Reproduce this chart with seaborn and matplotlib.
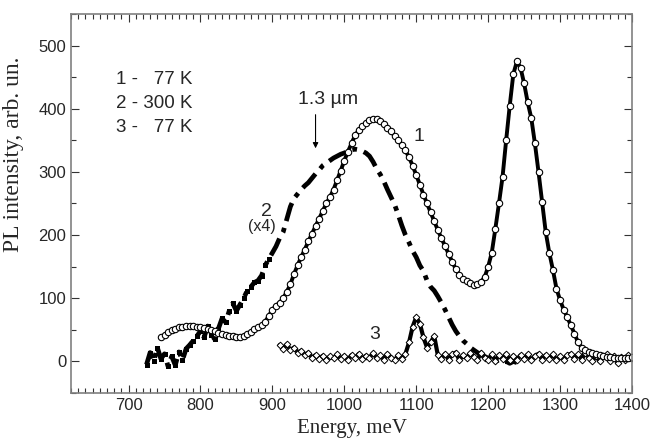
import numpy as np
import pandas as pd
import matplotlib
matplotlib.use("Agg")
import matplotlib.pyplot as plt
from matplotlib.ticker import MultipleLocator
import seaborn as sns

# curve 1: 77 K, open circles (5 meV step from 745 meV)
e1_start = 745
pl_77k = [
    38, 42, 46, 50, 52, 54, 55, 56, 56, 56, 55,           # 745-795
    55, 53, 51, 49, 48, 45, 43, 42, 41, 40,               # 800-845
    39, 39, 40, 43, 47, 51, 54, 57, 63, 72,               # 850-895
    82, 88, 93, 100, 110, 122, 138, 152, 165, 177,        # 900-945
    190, 202, 214, 226, 238, 250, 260, 272, 287, 302,     # 950-995
    318, 332, 345, 358, 366, 372, 378, 382, 384, 383,     # 1000-1045
    380, 376, 370, 364, 357, 350, 342, 334, 323, 310,     # 1050-1095
    295, 280, 264, 250, 236, 222, 208, 195, 183, 170,     # 1100-1145
    158, 146, 137, 131, 127, 124, 121, 122, 126, 133,     # 1150-1195
    150, 172, 210, 250, 292, 350, 405, 455, 475, 465,     # 1200-1245
    440, 410, 385, 345, 300, 252, 205, 172, 145, 115,     # 1250-1295
    97, 82, 70, 57, 44, 30, 22, 18, 15, 13,               # 1300-1345
    11, 10, 8, 7, 7, 6, 6, 5, 6, 6,                       # 1350-1395
    7,                                                    # 1400
]

# curve 2: 300 K (x4), dash-dot (5 meV step from 725 meV)
e2_start = 725
pl_300k = [
    -5, 14, 0, 22, 4, 12, -8, 8, -6, 15, 2, 20, 26, 33, 40,   # 725-795
    48, 38, 56, 42, 35, 52, 68, 62, 80, 92,               # 800-845
    80, 90, 100, 112, 118, 125, 128, 136, 152, 162,       # 850-895
    172, 182, 195, 205, 225, 245, 258, 265, 272, 278,     # 900-945
    283, 290, 297, 303, 310, 314, 318, 322, 325, 328,     # 950-995
    330, 333, 335, 336, 335, 333, 330, 325, 316, 305,     # 1000-1045
    296, 285, 272, 260, 248, 232, 215, 200, 188, 175,     # 1050-1095
    165, 152, 143, 128, 118, 112, 103, 93, 82, 70,        # 1100-1145
    58, 48, 40, 33, 28, 22, 18, 14, 10, 8,                # 1150-1195
    5, 3, 0, 2, -2, 0, -3, 0, -2,                         # 1200-1240
]

# curve 3: 77 K, open diamonds (5 meV step from 910 meV)
e3_start = 910
pl_77k_b = [
    26, 20, 27, 18, 22, 14, 17, 10,                       # 910-945
    14, 6, 10, 4, 9, 3, 8, 5, 11, 4,                      # 950-995
    9, 3, 10, 5, 12, 4, 9, 6, 13, 5,                      # 1000-1045
    10, 3, 12, 6, 2, 10, 4, 12, 30, 55,                   # 1050-1095
    70, 60, 38, 22, 30, 40, 10, 4, 12, 3,                 # 1100-1145
    11, 14, 2, 10, 5, 13, 7, 2, 14, 6,                    # 1150-1195
    3, 11, 1, 10, 4, 12, 2, 9, 3, 10,                     # 1200-1245
    4, 11, 2, 9, 12, 3, 10, 4, 11, 2,                     # 1250-1295
    9, 3, 10, 12, 4, 11, 3, 14, 6, 1,                     # 1300-1345
    9, 0, 8, 11, 1, 9, -3, 7, 2, 10,                      # 1350-1395
    6,                                                    # 1400
]

legend_lines = ["1 -   77 K", "2 - 300 K", "3 -   77 K"]


def make_df(start, values):
    energy = start + 5 * np.arange(len(values))
    return pd.DataFrame({"energy": energy, "pl": values})


df1 = make_df(e1_start, pl_77k)
df2 = make_df(e2_start, pl_300k)
df3 = make_df(e3_start, pl_77k_b)

sns.set_style("ticks")
plt.rcParams["font.family"] = ["Liberation Sans", "DejaVu Sans"]

fig = plt.figure(figsize=(6.55, 4.42), dpi=100)
ax = fig.add_axes([0.1084, 0.1109, 0.8565, 0.8574])

# curve 2 (300 K): dash-dot, filled squares in the noisy low-energy part
noisy = list(np.where(df2["energy"] < 900)[0])
sns.lineplot(data=df2, x="energy", y="pl", ax=ax, color="black", lw=3.4,
             sort=False, estimator=None, marker="s", markersize=3.6,
             markevery=noisy, markeredgewidth=0)
ax.lines[-1].set_dashes((4, 1.5, 1, 1.5))

# curve 3 (77 K, diamonds)
sns.lineplot(data=df3, x="energy", y="pl", ax=ax, color="black", lw=3.0,
             sort=False, estimator=None, marker="D", markersize=3.4,
             markerfacecolor="white", markeredgecolor="black", markeredgewidth=0.7)

# curve 1 (77 K, circles)
sns.lineplot(data=df1, x="energy", y="pl", ax=ax, color="black", lw=2.8,
             sort=False, estimator=None, marker="o", markersize=4.6,
             markerfacecolor="white", markeredgecolor="black", markeredgewidth=0.8)

ax.set_xlim(620, 1400)
ax.set_ylim(-50, 550)
ax.xaxis.set_minor_locator(MultipleLocator(10))
ax.yaxis.set_minor_locator(MultipleLocator(50))
ax.set_xticks([700, 800, 900, 1000, 1100, 1200, 1300, 1400])
ax.set_yticks([0, 100, 200, 300, 400, 500])
ax.tick_params(which="both", direction="in", top=True, right=True,
               labelsize=12, color="#333333", width=0.8)
ax.tick_params(which="major", length=6)
ax.tick_params(which="minor", length=3.5)
for s in ax.spines.values():
    s.set_color("#808080")
    s.set_linewidth(1.2)

ax.set_xlabel("Energy, meV", family=["Liberation Serif", "DejaVu Serif"], fontsize=15)
ax.set_ylabel("PL intensity, arb. un.", family=["Liberation Serif", "DejaVu Serif"],
              fontsize=17)
ax.yaxis.set_label_coords(-0.083, 0.63)
ax.xaxis.set_label_coords(0.5, -0.068)

# legend-like text block
for i, line in enumerate(legend_lines):
    ax.text(682, 446 - 38 * i, line, fontsize=13.5, va="center", ha="left")

# annotations
ax.text(978, 415, "1.3 \u00b5m", fontsize=14, ha="center", va="center")
ax.annotate("", xy=(960, 333), xytext=(960, 395),
            arrowprops=dict(arrowstyle="-|>", color="black", lw=0.8,
                            mutation_scale=8))
ax.text(1104, 356, "1", fontsize=14, ha="center", va="center")
ax.text(892, 237, "2", fontsize=14, ha="center", va="center")
ax.text(886, 214, "(x4)", fontsize=11.5, ha="center", va="center")
ax.text(1042, 42, "3", fontsize=14, ha="center", va="center")

fig.savefig("out.png", dpi=100)
